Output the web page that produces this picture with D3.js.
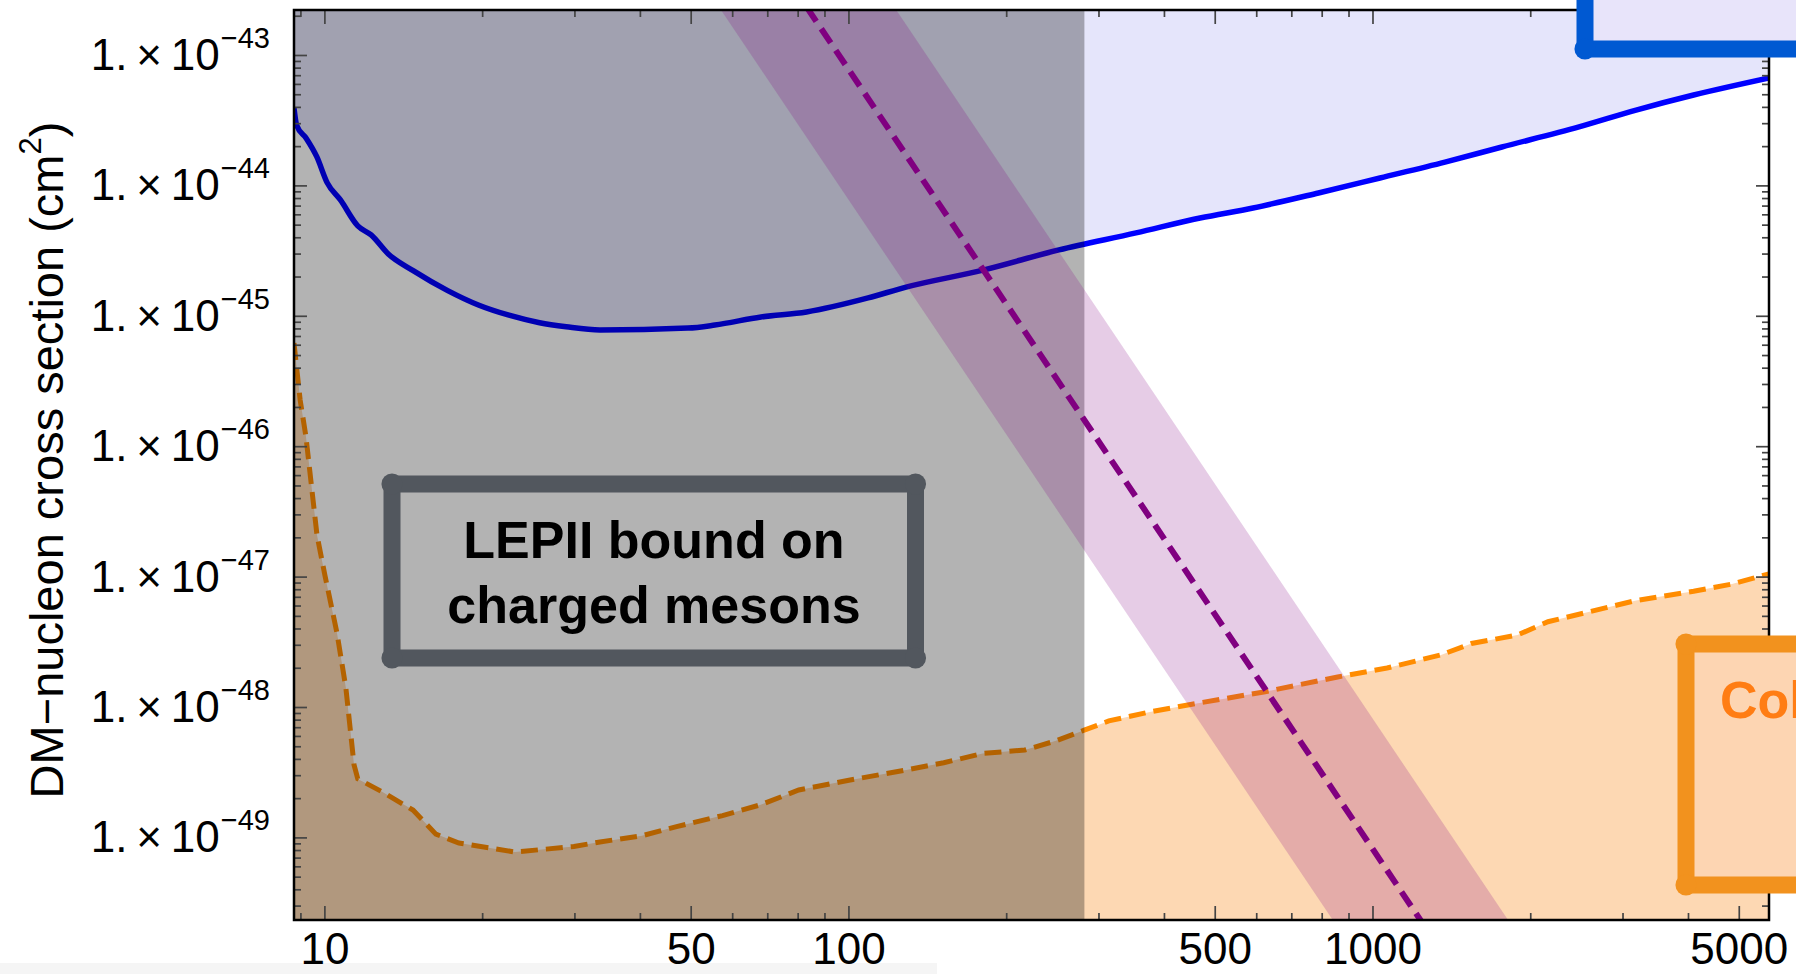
<!DOCTYPE html>
<html>
<head>
<meta charset="utf-8">
<script src="https://cdn.jsdelivr.net/npm/d3@7"></script>
<style>
html, body { margin: 0; padding: 0; background: #fff; }
svg { display: block; }
text { font-family: "Liberation Sans", Arial, Helvetica, sans-serif; }
</style>
</head>
<body>
<svg id="chart" width="1796" height="974"></svg>
<script>
// ---------------- data ----------------
// Blue solid curve (upper excluded region), DM mass in GeV, cross section in cm^2
const blueMass  = [8.75, 8.85, 9.23, 9.67, 10.12, 10.73, 11.58, 12.28, 13.24, 14.77, 17.19, 19.67, 22.5, 25.74, 28.94, 33.56,
                   49.4, 55.6, 68.1, 83.2, 109, 128.8, 180.6, 252.2, 353.8, 468.7, 591.6, 788.6, 1033.5, 1375, 1766, 2478, 3184, 4100, 5712];
const blueSigma = [3.9e-44, 2.9e-44, 2.3e-44, 1.66e-44, 1.05e-44, 7.73e-45, 4.89e-45, 4.17e-45, 2.98e-45, 2.22e-45, 1.56e-45, 1.21e-45, 1.01e-45, 8.85e-46, 8.24e-46, 7.78e-46,
                   8.05e-46, 8.49e-46, 9.79e-46, 1.07e-45, 1.37e-45, 1.66e-45, 2.24e-45, 3.2e-45, 4.32e-45, 5.62e-45, 6.71e-45, 8.75e-45, 1.14e-44, 1.51e-44, 1.97e-44, 2.81e-44, 3.78e-44, 4.93e-44, 6.67e-44];

// Orange dashed curve (lower region)
const orangeMass  = [8.75, 8.99, 9.22, 9.68, 10.02, 10.57, 10.99, 11.39, 11.58, 12.91, 14.76, 16.32, 18.06, 23.1, 29.93, 33.56,
                     40.36, 47.0, 57.5, 68.0, 80.4, 98.5, 128.8, 152, 180.3, 217, 248, 282.6, 314, 378, 464.5, 624, 858, 1066, 1351, 1545, 1891, 2162, 3184, 4100, 4853, 5712];
const orangeSigma = [6.18e-46, 2.26e-46, 1.19e-46, 2.08e-47, 1.03e-47, 3.69e-48, 1.4e-48, 3.61e-49, 2.81e-49, 2.23e-49, 1.62e-49, 1.06e-49, 9.06e-50, 7.73e-50, 8.51e-50, 9.23e-50,
                     1.03e-49, 1.21e-49, 1.47e-49, 1.78e-49, 2.31e-49, 2.71e-49, 3.29e-49, 3.74e-49, 4.4e-49, 4.68e-49, 5.48e-49, 6.67e-49, 7.82e-49, 9.2e-49, 1.07e-48, 1.31e-48, 1.7e-48, 1.99e-48, 2.51e-48, 3.07e-48, 3.56e-48, 4.51e-48, 6.56e-48, 7.71e-48, 8.77e-48, 1.05e-47];

// Purple dashed prediction line with its band (end points)
const purpleMass    = [50, 2000];
const purpleCentral = [4.9e-42, 1.3e-51];
const purpleUpper   = [4.9e-41, 1.3e-50];
const purpleLower   = [4.9e-43, 1.3e-52];

// LEPII bound on charged mesons: excluded below this mass (GeV)
const lepMassMax = 282;

// Axes
const xDomain = [8.75, 5710];
const yDomain = [2.326e-50, 2.213e-43];
const xTickValues = [10, 50, 100, 500, 1000, 5000];
const xTickLabels = ["10", "50", "100", "500", "1000", "5000"];
const xMinorTicks = [9, 20, 30, 40, 60, 70, 80, 90, 200, 300, 400, 600, 700, 800, 900, 2000, 3000, 4000];
const yExponents = [-43, -44, -45, -46, -47, -48, -49];
const yTitle = "DM\u2212nucleon cross section (cm";

// ---------------- drawing ----------------
const W = 1796, H = 974;
const L = 294, R = 1769, T = 10, B = 920;
const FONT = "Liberation Sans, Arial, Helvetica, sans-serif";

const svg = d3.select("#chart");
const x = d3.scaleLog().domain(xDomain).range([L, R]);
const y = d3.scaleLog().domain(yDomain).range([B, T]);

svg.append("rect").attr("width", W).attr("height", H).attr("fill", "#fff");
svg.append("rect").attr("x", 0).attr("y", 963).attr("width", 937).attr("height", 11).attr("fill", "#f5f5f5");

svg.append("defs").append("clipPath").attr("id", "plotclip")
  .append("rect").attr("x", L).attr("y", T).attr("width", R - L).attr("height", B - T);

const plot = svg.append("g").attr("clip-path", "url(#plotclip)");

const blue = blueMass.map((m, i) => ({ m, s: blueSigma[i] }));
const orange = orangeMass.map((m, i) => ({ m, s: orangeSigma[i] }));
const band = purpleMass.map((m, i) => ({ m, c: purpleCentral[i], u: purpleUpper[i], l: purpleLower[i] }));

// regions
plot.append("path").datum(blue)
  .attr("d", d3.area().x(d => x(d.m)).y0(T).y1(d => y(d.s)).curve(d3.curveMonotoneX))
  .attr("fill", "#e5e5fb");
plot.append("path").datum(orange)
  .attr("d", d3.area().x(d => x(d.m)).y0(B).y1(d => y(d.s)))
  .attr("fill", "#fdd8b3");

// curves
plot.append("path").datum(blue)
  .attr("d", d3.line().x(d => x(d.m)).y(d => y(d.s)).curve(d3.curveMonotoneX))
  .attr("fill", "none").attr("stroke", "#0000ff").attr("stroke-width", 5.5).attr("stroke-linejoin", "round");
plot.append("path").datum(orange)
  .attr("d", d3.line().x(d => x(d.m)).y(d => y(d.s)))
  .attr("fill", "none").attr("stroke", "#ff8c00").attr("stroke-width", 5).attr("stroke-dasharray", "17,8");

// LEPII gray region (multiplied over everything below)
plot.append("rect")
  .attr("x", x(xDomain[0])).attr("y", T)
  .attr("width", x(lepMassMax) - x(xDomain[0])).attr("height", B - T)
  .attr("fill", "#b3b3b3").style("mix-blend-mode", "multiply");

// purple band and line
plot.append("path").datum(band)
  .attr("d", d3.area().x(d => x(d.m)).y0(d => y(d.l)).y1(d => y(d.u)))
  .attr("fill", "#800080").attr("fill-opacity", 0.2);
plot.append("path").datum(band)
  .attr("d", d3.line().x(d => x(d.m)).y(d => y(d.c)))
  .attr("fill", "none").attr("stroke", "#800080").attr("stroke-width", 6).attr("stroke-dasharray", "17,9");

// ---------------- axes ----------------
function styleAxis(g) {
  g.select(".domain").remove();
  g.selectAll(".tick line").attr("stroke", "#444").attr("stroke-width", 1.7);
  g.attr("font-family", FONT);
}
const yMajor = yExponents.map(e => Math.pow(10, e));
const yMinor = [];
for (let e = -51; e <= -43; e++) {
  for (let k = 2; k <= 9; k++) {
    const v = k * Math.pow(10, e);
    if (v >= yDomain[0] && v <= yDomain[1]) yMinor.push(v);
  }
}

// bottom
svg.append("g").attr("transform", `translate(0,${B})`)
  .call(d3.axisBottom(x).tickValues(xTickValues).tickFormat((d, i) => xTickLabels[i])
        .tickSizeInner(-14).tickSizeOuter(0).tickPadding(13))
  .call(styleAxis)
  .attr("font-size", 44)
  .selectAll("text").attr("fill", "#000");
svg.append("g").attr("transform", `translate(0,${B})`)
  .call(d3.axisBottom(x).tickValues(xMinorTicks).tickFormat("").tickSizeInner(-7).tickSizeOuter(0))
  .call(styleAxis);
// top
svg.append("g").attr("transform", `translate(0,${T})`)
  .call(d3.axisTop(x).tickValues(xTickValues).tickFormat("").tickSizeInner(-14).tickSizeOuter(0))
  .call(styleAxis);
svg.append("g").attr("transform", `translate(0,${T})`)
  .call(d3.axisTop(x).tickValues(xMinorTicks).tickFormat("").tickSizeInner(-7).tickSizeOuter(0))
  .call(styleAxis);
// left
svg.append("g").attr("transform", `translate(${L},0)`)
  .call(d3.axisLeft(y).tickValues(yMajor).tickFormat("").tickSizeInner(-13).tickSizeOuter(0))
  .call(styleAxis);
svg.append("g").attr("transform", `translate(${L},0)`)
  .call(d3.axisLeft(y).tickValues(yMinor).tickFormat("").tickSizeInner(-7).tickSizeOuter(0))
  .call(styleAxis);
// right
svg.append("g").attr("transform", `translate(${R},0)`)
  .call(d3.axisRight(y).tickValues(yMajor).tickFormat("").tickSizeInner(-13).tickSizeOuter(0))
  .call(styleAxis);
svg.append("g").attr("transform", `translate(${R},0)`)
  .call(d3.axisRight(y).tickValues(yMinor).tickFormat("").tickSizeInner(-7).tickSizeOuter(0))
  .call(styleAxis);

// y tick labels  1.×10^-n
const yLab = svg.append("g").attr("font-family", FONT);
yExponents.forEach((e, i) => {
  const t = yLab.append("text")
    .attr("x", L - 24).attr("y", y(yMajor[i]) + 15)
    .attr("text-anchor", "end").attr("font-size", 44).attr("fill", "#000");
  t.append("tspan").text("1.\u2009\u00d7\u200910");
  t.append("tspan").attr("font-size", 29).attr("dy", -22).attr("dx", 1).text("\u2212" + Math.abs(e));
});

// frame
svg.append("rect").attr("x", L).attr("y", T).attr("width", R - L).attr("height", B - T)
  .attr("fill", "none").attr("stroke", "#000").attr("stroke-width", 2.5);

// y title
const yt = svg.append("text")
  .attr("transform", "translate(63,460) rotate(-90)")
  .attr("text-anchor", "middle").attr("font-size", 47).attr("font-family", FONT).attr("fill", "#000");
yt.append("tspan").text(yTitle);
yt.append("tspan").attr("font-size", 31).attr("dy", -22).text("2");
yt.append("tspan").attr("dy", 22).text(")");

// ---------------- annotation boxes ----------------
function sketchBox(x0, y0, x1, y1, stroke, fill, sw) {
  const g = svg.append("g");
  g.append("rect").attr("x", x0).attr("y", y0).attr("width", x1 - x0).attr("height", y1 - y0)
    .attr("rx", 4).attr("fill", fill).attr("stroke", stroke).attr("stroke-width", sw)
    .attr("stroke-linejoin", "round");
  [[x0, y0], [x1, y0], [x0, y1], [x1, y1]].forEach(([cx, cy]) => {
    g.append("circle").attr("cx", cx).attr("cy", cy).attr("r", sw * 0.62).attr("fill", stroke);
  });
  return g;
}

sketchBox(392, 484, 915.5, 658, "#52575e", "none", 17);
const lep = svg.append("text").attr("text-anchor", "middle").attr("font-family", FONT)
  .attr("font-weight", "bold").attr("font-size", 52).attr("fill", "#000");
lep.append("tspan").attr("x", 654).attr("y", 558).text("LEPII bound on");
lep.append("tspan").attr("x", 654).attr("y", 623).text("charged mesons");

sketchBox(1585, -60, 1950, 49, "#0059d2", "#e8e4fa", 17);

sketchBox(1686, 644, 1950, 885, "#f2921e", "#fdd5b2", 17);
svg.append("text").attr("x", 1720).attr("y", 718).attr("font-family", FONT)
  .attr("font-weight", "bold").attr("font-size", 52).attr("fill", "#ff7d14").text("Collider bounds");
</script>
</body>
</html>
